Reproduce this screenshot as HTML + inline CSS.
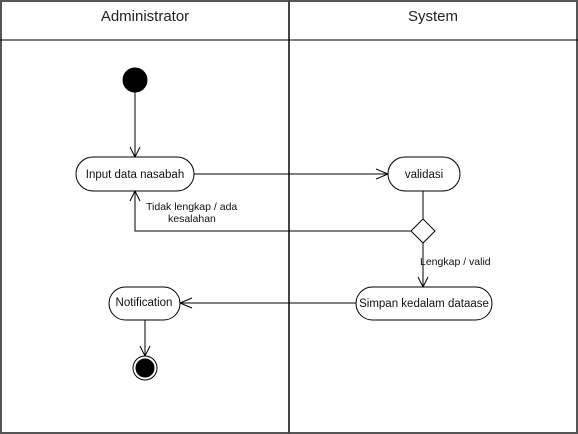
<!DOCTYPE html>
<html><head><style>body{margin:0;background:#fff}svg{display:block}text{font-family:"Liberation Sans",sans-serif}</style></head><body>
<svg width="578" height="434" viewBox="0 0 578 434">
<rect x="1" y="1" width="576" height="432" fill="#fff" stroke="#555" stroke-width="2"/>
<line x1="289" y1="0" x2="289" y2="434" stroke="#444" stroke-width="2"/>
<line x1="0" y1="40" x2="578" y2="40" stroke="#000" stroke-width="1"/>
<text x="145" y="21" font-size="15" text-anchor="middle" fill="#222">Administrator</text>
<text x="433" y="21" font-size="15" text-anchor="middle" fill="#222">System</text>
<g stroke="#000" fill="none" stroke-width="1">
<circle cx="135" cy="80" r="12" fill="#000"/>
<line x1="135" y1="92" x2="135" y2="157"/>
<polyline points="130,147 135,157 140,147"/>
<rect x="76" y="157" width="118" height="34" rx="17" fill="#fff"/>
<line x1="194" y1="174" x2="388" y2="174"/>
<polyline points="376,169 388,174 376,179"/>
<rect x="388" y="157" width="72" height="34" rx="17" fill="#fff"/>
<line x1="423" y1="191" x2="423" y2="219"/>
<polygon points="423,219 435,231 423,243 411,231" fill="#fff"/>
<polyline points="411,231 135,231 135,191"/>
<polyline points="130,201 135,191 140,201"/>
<line x1="423" y1="243" x2="423" y2="287"/>
<polyline points="418,277 423,287 428,277"/>
<rect x="356" y="287" width="136" height="33" rx="16.5" fill="#fff"/>
<line x1="356" y1="303" x2="180" y2="303"/>
<polyline points="192,298 180,303 192,308"/>
<rect x="109" y="287" width="71" height="33" rx="16.5" fill="#fff"/>
<line x1="145" y1="320" x2="145" y2="356"/>
<polyline points="140,346 145,356 150,346"/>
<circle cx="145" cy="368" r="12" fill="#fff"/>
<circle cx="145" cy="368" r="9" fill="#000"/>
</g>
<g font-size="11.5" fill="#111" text-anchor="middle">
<text x="135" y="178">Input data nasabah</text>
<text x="424" y="178">validasi</text>
<text x="424" y="307">Simpan kedalam dataase</text>
<text x="144" y="306">Notification</text>
</g>
<g font-size="10.5" fill="#111">
<text x="146" y="210">Tidak lengkap / ada</text>
<text x="168" y="222">kesalahan</text>
<text x="420" y="265">Lengkap / valid</text>
</g>
</svg>
</body></html>
